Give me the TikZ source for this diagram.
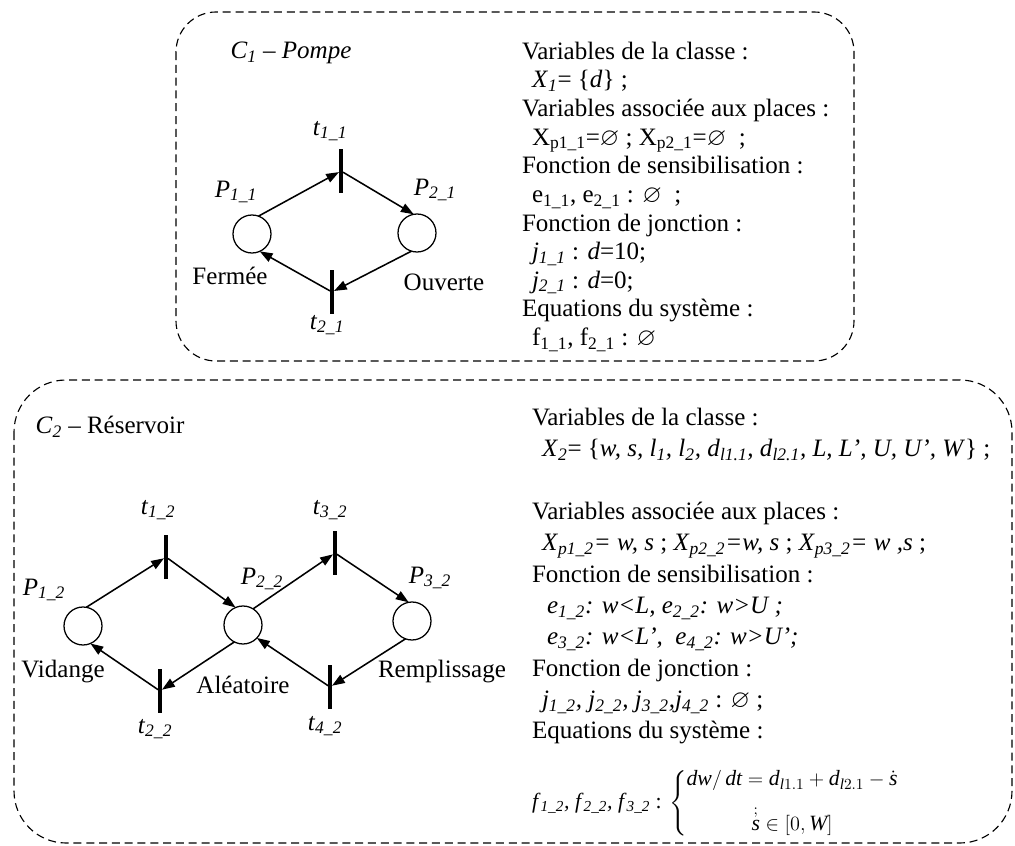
\documentclass[tikz,border=0pt]{standalone}
\usepackage{amsmath}
\usepackage{amssymb}
\usepackage{fontspec}
\setmainfont{Liberation Serif}
\usetikzlibrary{arrows.meta}

\newcommand\ix[2]{\textit{#1}\textsubscript{\textit{#2}}}
\newcommand\rx[2]{#1\textsubscript{#2}}

\begin{document}
\begin{tikzpicture}[x=0.025cm, y=-0.025cm,
  every node/.style={inner sep=0pt, outer sep=0pt, font=\fontsize{17.8}{20.35}\selectfont},
  place/.style={circle, draw, line width=0.9pt, minimum size=0.95cm},
  trans/.style={fill=black, minimum width=0.1cm, minimum height=1.075cm},
  flow/.style={line width=1.1pt, -{Triangle[length=3.2mm,width=2.3mm]}},
  classbox/.style={dash pattern=on 2mm off 1.2mm, line width=0.8pt},
  textcol/.style={anchor=north west, align=left}]
\useasboundingbox (0,0) rectangle (1015,846);

\draw[classbox, rounded corners=1cm] (176,12) rectangle (854,361);
\draw[classbox, rounded corners=1.3cm] (14,380) rectangle (1012,843);

\node (c1) at (291,53) {\ix{C}{1}\textit{ -- Pompe}};
\node[place] (P11) at (252,234) {};
\node[place] (P21) at (417,233) {};
\node[trans] (t11) at (341,171) {};
\node[trans] (t21) at (332,292) {};
\node (lP11) at (236,192) {\ix{P}{1\_1}};
\node (lP21) at (435,190) {\ix{P}{2\_1}};
\node (lt11) at (330,131) {\ix{t}{1\_1}};
\node (lt21) at (327,325) {\ix{t}{2\_1}};
\node (ferm) at (230,276) {Fermée};
\node (ouv) at (444,282) {Ouverte};

\draw[flow] (P11.70) -- (t11);
\draw[flow] (t11) -- (P21.100);
\draw[flow] (P21.-107) -- (t21);
\draw[flow] (t21) -- (P11.-66);

\node[textcol] (vars1) at (522,42) {Variables de la classe :\\
\hspace{0.4em}\ix{X}{1}= \{\textit{d}\} ;\\
Variables associée aux places :\\
\hspace{0.4em}\rx{X}{p1\_1}=$\varnothing$ ; \rx{X}{p2\_1}=$\varnothing$ \ ;\\
Fonction de sensibilisation :\\
\hspace{0.4em}\rx{e}{1\_1}, \rx{e}{2\_1} : $\varnothing$ \ ;\\
Fonction de jonction :\\
\hspace{0.4em}\ix{j}{1\_1} : \textit{d}=10;\\
\hspace{0.4em}\ix{j}{2\_1} : \textit{d}=0;\\
Equations du système :\\
\hspace{0.4em}\rx{f}{1\_1}, \rx{f}{2\_1} : $\varnothing$};

\node (c2) at (110,427) {\ix{C}{2} -- Réservoir};
\node[place] (P12) at (83,626) {};
\node[place] (P22) at (243,625) {};
\node[place] (P32) at (412,621) {};
\node[trans] (t12) at (166,557) {};
\node[trans] (t22) at (160,691) {};
\node[trans] (t32) at (335,553) {};
\node[trans] (t42) at (330,687) {};
\node (lP12) at (44,590) {\ix{P}{1\_2}};
\node (lP22) at (262,579) {\ix{P}{2\_2}};
\node (lP32) at (430,578) {\ix{P}{3\_2}};
\node (lt12) at (158,510) {\ix{t}{1\_2}};
\node (lt32) at (330,510) {\ix{t}{3\_2}};
\node (lt22) at (155,729) {\ix{t}{2\_2}};
\node (lt42) at (325,726) {\ix{t}{4\_2}};
\node (vid) at (63,672) {Vidange};
\node (alea) at (243,685) {Aléatoire};
\node (rempl) at (442,672) {Remplissage};

\draw[flow] (P12.80) -- (t12);
\draw[flow] (t12) -- (P22.113);
\draw[flow] (P22.58) -- (t32);
\draw[flow] (t32) -- (P32.100);
\draw[flow] (P32.-110) -- (t42);
\draw[flow] (t42) -- (P22.-43);
\draw[flow] (P22.-117) -- (t22);
\draw[flow] (t22) -- (P12.-67);

\node[textcol, font=\fontsize{17.8}{22.3}\selectfont] (vars2) at (532,408) {Variables de la classe :\\
\hspace{0.4em}\ix{X}{2}= \{\textit{w, s, l}\textsubscript{\textit{1}}\textit{, l}\textsubscript{\textit{2}}\textit{, d}\textsubscript{\textit{l1.1}}\textit{, d}\textsubscript{\textit{l2.1}}\textit{, L, L’, U, U’, W}\} ;\\
\mbox{}\\
Variables associée aux places :\\
\hspace{0.4em}\ix{X}{p1\_2}\textit{= w, s} ; \ix{X}{p2\_2}\textit{=w, s} ; \ix{X}{p3\_2}\textit{= w ,s} ;\\
Fonction de sensibilisation :\\
\hspace{0.6em}\ix{e}{1\_2}\textit{: w<L, }\ix{e}{2\_2}\textit{: w>U ;}\\
\hspace{0.6em}\ix{e}{3\_2}\textit{: w<L’, \ }\ix{e}{4\_2}\textit{: w>U’;}\\
Fonction de jonction :\\
\hspace{0.4em}\ix{j}{1\_2}\textit{, }\ix{j}{2\_2}\textit{, }\ix{j}{3\_2}\textit{,}\ix{j}{4\_2} : $\varnothing$ ;\\
Equations du système :};

\node[anchor=west, font=\fontsize{15.5}{18}\selectfont] (sys) at (532,803) {\ix{f}{1\_2}\textit{, }\ix{f}{2\_2}\textit{, }\ix{f}{3\_2} : $\left\{\begin{array}{@{}c}
\textit{dw}/\,\textit{dt} = \textit{d}_{\textit{l}1.1} + \textit{d}_{\textit{l}2.1} - \dot{\textit{s}}\\[9pt]
\overset{;}{\textit{s}}\in\left[0,\textit{W}\right]
\end{array}\right.$};
\end{tikzpicture}
\end{document}
